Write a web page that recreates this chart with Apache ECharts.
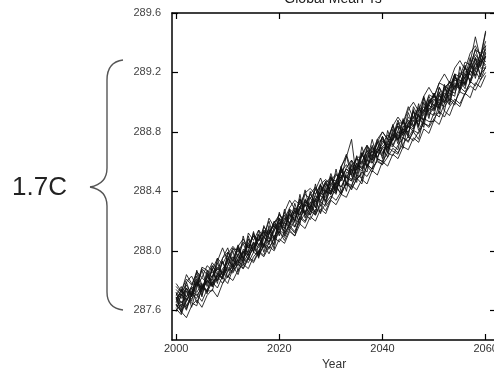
<!DOCTYPE html>
<html>
<head>
<meta charset="utf-8">
<script src="https://cdn.jsdelivr.net/npm/echarts@6/dist/echarts.min.js"></script>
<style>
  html, body { margin: 0; padding: 0; background: #fff; }
  #chart { width: 494px; height: 370px; }
</style>
</head>
<body>
<div id="chart"></div>
<script>
// years of the ensemble runs
var years = [
  2000, 2001, 2002, 2003, 2004, 2005, 2006, 2007, 2008, 2009,
  2010, 2011, 2012, 2013, 2014, 2015, 2016, 2017, 2018, 2019,
  2020, 2021, 2022, 2023, 2024, 2025, 2026, 2027, 2028, 2029,
  2030, 2031, 2032, 2033, 2034, 2035, 2036, 2037, 2038, 2039,
  2040, 2041, 2042, 2043, 2044, 2045, 2046, 2047, 2048, 2049,
  2050, 2051, 2052, 2053, 2054, 2055, 2056, 2057, 2058, 2059,
  2060
];

var xTicks = [2000, 2020, 2040, 2060];
var yTicks = [287.6, 288.0, 288.4, 288.8, 289.2, 289.6];

// global mean Ts (K), one array per ensemble member
var run01 = [
  287.67, 287.74, 287.69, 287.76, 287.85, 287.75, 287.82, 287.90, 287.84, 287.82,
  287.94, 288.02, 287.96, 287.93, 288.05, 288.10, 288.04, 288.10, 288.04, 288.16,
  288.25, 288.19, 288.16, 288.28, 288.24, 288.34, 288.31, 288.26, 288.39, 288.46,
  288.39, 288.46, 288.56, 288.49, 288.47, 288.59, 288.59, 288.68, 288.59, 288.66,
  288.74, 288.69, 288.77, 288.88, 288.77, 288.84, 288.80, 288.94, 288.94, 289.04,
  288.97, 289.05, 288.99, 289.10, 289.17, 289.13, 289.13, 289.25, 289.32, 289.27,
  289.36
];
var run02 = [
  287.62, 287.66, 287.60, 287.71, 287.68, 287.77, 287.72, 287.79, 287.83, 287.78,
  287.86, 287.90, 287.84, 287.95, 287.92, 287.99, 287.97, 288.04, 288.01, 288.09,
  288.06, 288.12, 288.17, 288.13, 288.22, 288.19, 288.27, 288.24, 288.33, 288.30,
  288.35, 288.43, 288.38, 288.46, 288.44, 288.51, 288.49, 288.57, 288.53, 288.62,
  288.60, 288.66, 288.64, 288.71, 288.76, 288.73, 288.81, 288.79, 288.86, 288.84,
  288.93, 288.90, 288.99, 289.03, 289.00, 289.07, 289.05, 289.14, 289.11, 289.19,
  289.23
];
var run03 = [
  287.74, 287.70, 287.79, 287.83, 287.76, 287.88, 287.84, 287.92, 287.87, 287.95,
  287.99, 287.93, 288.03, 288.08, 288.02, 288.11, 288.07, 288.16, 288.12, 288.19,
  288.22, 288.18, 288.28, 288.25, 288.33, 288.30, 288.38, 288.43, 288.37, 288.46,
  288.49, 288.44, 288.53, 288.58, 288.52, 288.62, 288.60, 288.67, 288.64, 288.73,
  288.75, 288.70, 288.80, 288.84, 288.79, 288.90, 288.87, 288.95, 288.93, 289.01,
  289.04, 288.99, 289.10, 289.13, 289.08, 289.20, 289.16, 289.25, 289.22, 289.32,
  289.35
];
var run04 = [
  287.69, 287.58, 287.73, 287.66, 287.80, 287.72, 287.87, 287.76, 287.92, 287.83,
  287.97, 287.88, 288.03, 287.94, 288.08, 287.99, 288.14, 288.02, 288.17, 288.07,
  288.21, 288.12, 288.27, 288.19, 288.35, 288.24, 288.40, 288.29, 288.45, 288.33,
  288.50, 288.39, 288.55, 288.45, 288.61, 288.50, 288.66, 288.56, 288.71, 288.61,
  288.77, 288.66, 288.82, 288.72, 288.88, 288.78, 288.95, 288.83, 289.00, 288.89,
  289.06, 288.95, 289.12, 289.01, 289.19, 289.07, 289.25, 289.13, 289.30, 289.18,
  289.33
];
var run05 = [
  287.60, 287.64, 287.62, 287.68, 287.71, 287.66, 287.74, 287.79, 287.75, 287.83,
  287.88, 287.85, 287.92, 287.98, 288.04, 288.00, 288.09, 288.13, 288.11, 288.19,
  288.24, 288.21, 288.29, 288.34, 288.31, 288.39, 288.42, 288.38, 288.45, 288.48,
  288.44, 288.51, 288.49, 288.55, 288.53, 288.58, 288.56, 288.64, 288.61, 288.67,
  288.70, 288.68, 288.75, 288.80, 288.78, 288.86, 288.90, 288.87, 288.95, 288.99,
  289.02, 288.98, 289.06, 289.04, 289.11, 289.09, 289.17, 289.21, 289.18, 289.26,
  289.31
];
var run06 = [
  287.72, 287.68, 287.75, 287.70, 287.78, 287.74, 287.80, 287.77, 287.84, 287.81,
  287.89, 287.86, 287.91, 287.88, 287.95, 287.92, 287.99, 287.96, 288.03, 288.00,
  288.08, 288.05, 288.13, 288.10, 288.18, 288.15, 288.23, 288.20, 288.28, 288.25,
  288.34, 288.31, 288.38, 288.36, 288.44, 288.41, 288.48, 288.45, 288.54, 288.51,
  288.60, 288.57, 288.65, 288.62, 288.70, 288.68, 288.76, 288.73, 288.82, 288.79,
  288.88, 288.85, 288.94, 288.91, 289.00, 288.97, 289.06, 289.03, 289.13, 289.10,
  289.18
];
var run07 = [
  287.65, 287.74, 287.63, 287.70, 287.79, 287.69, 287.85, 287.78, 287.82, 287.93,
  287.86, 287.94, 288.04, 287.95, 288.00, 288.12, 288.03, 288.10, 288.20, 288.08,
  288.16, 288.26, 288.17, 288.24, 288.35, 288.26, 288.30, 288.42, 288.33, 288.40,
  288.52, 288.42, 288.48, 288.64, 288.50, 288.55, 288.66, 288.57, 288.62, 288.75,
  288.66, 288.72, 288.85, 288.75, 288.79, 288.93, 288.84, 288.88, 289.03, 288.91,
  288.97, 289.10, 289.00, 289.05, 289.18, 289.08, 289.14, 289.27, 289.44, 289.29,
  289.47
];
var run08 = [
  287.64, 287.59, 287.55, 287.63, 287.67, 287.62, 287.70, 287.74, 287.69, 287.78,
  287.83, 287.80, 287.87, 287.91, 287.88, 287.96, 288.00, 287.97, 288.06, 288.10,
  288.14, 288.11, 288.19, 288.16, 288.23, 288.27, 288.24, 288.32, 288.37, 288.34,
  288.41, 288.46, 288.43, 288.50, 288.47, 288.55, 288.60, 288.57, 288.64, 288.69,
  288.65, 288.73, 288.78, 288.75, 288.83, 288.88, 288.84, 288.92, 288.97, 288.94,
  289.01, 289.06, 289.03, 289.11, 289.15, 289.12, 289.20, 289.24, 289.21, 289.28,
  289.24
];
var run09 = [
  287.78, 287.73, 287.81, 287.77, 287.86, 287.82, 287.90, 287.87, 287.95, 287.91,
  287.98, 288.03, 287.99, 288.06, 288.02, 288.10, 288.07, 288.14, 288.11, 288.18,
  288.15, 288.22, 288.19, 288.27, 288.24, 288.31, 288.29, 288.37, 288.34, 288.41,
  288.38, 288.46, 288.43, 288.51, 288.48, 288.56, 288.54, 288.61, 288.59, 288.67,
  288.64, 288.72, 288.70, 288.78, 288.76, 288.84, 288.82, 288.91, 288.88, 288.96,
  288.94, 289.02, 289.00, 289.08, 289.06, 289.15, 289.12, 289.21, 289.18, 289.27,
  289.30
];
var run10 = [
  287.70, 287.76, 287.66, 287.72, 287.81, 287.74, 287.79, 287.88, 287.80, 287.86,
  287.95, 287.89, 287.97, 288.05, 287.96, 288.02, 288.11, 288.04, 288.14, 288.09,
  288.18, 288.24, 288.14, 288.21, 288.30, 288.25, 288.36, 288.29, 288.40, 288.47,
  288.38, 288.45, 288.57, 288.63, 288.75, 288.48, 288.52, 288.70, 288.61, 288.68,
  288.77, 288.69, 288.76, 288.86, 288.79, 288.85, 288.94, 288.81, 288.88, 288.99,
  289.06, 288.96, 289.03, 289.14, 289.09, 289.18, 289.11, 289.22, 289.30, 289.24,
  289.38
];
var run11 = [
  287.63, 287.70, 287.75, 287.69, 287.76, 287.82, 287.78, 287.83, 287.89, 287.84,
  287.90, 287.96, 287.92, 287.99, 288.05, 288.01, 288.07, 288.13, 288.08, 288.15,
  288.21, 288.17, 288.22, 288.29, 288.25, 288.32, 288.38, 288.33, 288.40, 288.45,
  288.40, 288.47, 288.53, 288.49, 288.57, 288.62, 288.58, 288.65, 288.70, 288.66,
  288.72, 288.78, 288.74, 288.81, 288.87, 288.83, 288.90, 288.96, 288.91, 288.99,
  289.05, 289.01, 289.08, 289.14, 289.10, 289.17, 289.23, 289.18, 289.26, 289.32,
  289.27
];
var run12 = [
  287.66, 287.71, 287.67, 287.73, 287.70, 287.75, 287.80, 287.76, 287.81, 287.86,
  287.82, 287.88, 287.93, 287.90, 287.96, 287.93, 288.00, 288.05, 288.02, 288.08,
  288.13, 288.09, 288.16, 288.12, 288.20, 288.25, 288.21, 288.28, 288.26, 288.32,
  288.37, 288.34, 288.40, 288.45, 288.42, 288.48, 288.53, 288.50, 288.56, 288.60,
  288.58, 288.63, 288.69, 288.66, 288.72, 288.77, 288.74, 288.80, 288.86, 288.83,
  288.89, 288.94, 288.90, 288.97, 289.02, 288.99, 289.06, 289.11, 289.08, 289.15,
  289.20
];
var run13 = [
  287.68, 287.72, 287.77, 287.71, 287.79, 287.75, 287.82, 287.86, 287.80, 287.88,
  287.92, 287.87, 287.95, 288.00, 287.94, 288.04, 288.08, 288.03, 288.12, 288.17,
  288.12, 288.20, 288.25, 288.20, 288.30, 288.34, 288.29, 288.38, 288.44, 288.38,
  288.47, 288.52, 288.47, 288.56, 288.61, 288.56, 288.65, 288.71, 288.66, 288.75,
  288.80, 288.75, 288.84, 288.90, 288.85, 288.95, 289.00, 288.94, 289.04, 289.10,
  289.04, 289.13, 289.19, 289.13, 289.23, 289.28, 289.22, 289.33, 289.38, 289.31,
  289.48
];
var run14 = [
  287.71, 287.65, 287.69, 287.76, 287.72, 287.78, 287.73, 287.82, 287.88, 287.85,
  287.93, 287.90, 287.94, 287.99, 287.97, 288.06, 288.02, 288.09, 288.06, 288.14,
  288.19, 288.15, 288.24, 288.22, 288.28, 288.33, 288.28, 288.35, 288.39, 288.36,
  288.44, 288.41, 288.49, 288.55, 288.51, 288.59, 288.55, 288.62, 288.67, 288.63,
  288.70, 288.74, 288.71, 288.79, 288.82, 288.80, 288.88, 288.85, 288.93, 288.98,
  288.95, 289.04, 289.01, 289.09, 289.13, 289.11, 289.19, 289.15, 289.23, 289.29,
  289.25
];
var run15 = [
  287.59, 287.71, 287.61, 287.71, 287.83, 287.70, 287.82, 287.80, 287.95, 287.83,
  287.90, 288.00, 287.86, 288.01, 287.99, 288.13, 287.98, 288.08, 288.15, 288.01,
  288.19, 288.13, 288.28, 288.20, 288.38, 288.22, 288.33, 288.25, 288.42, 288.40,
  288.38, 288.55, 288.39, 288.53, 288.51, 288.64, 288.47, 288.65, 288.61, 288.73,
  288.62, 288.81, 288.71, 288.68, 288.84, 288.83, 288.94, 288.84, 289.04, 288.93,
  288.91, 289.07, 288.94, 289.10, 289.19, 289.09, 289.17, 289.30, 289.16, 289.30,
  289.41
];
var run16 = [
  287.72, 287.62, 287.75, 287.62, 287.75, 287.87, 287.76, 287.88, 287.78, 287.95,
  288.02, 287.90, 287.98, 287.91, 288.10, 287.99, 288.11, 287.99, 288.11, 288.20,
  288.10, 288.28, 288.18, 288.27, 288.18, 288.35, 288.27, 288.45, 288.30, 288.38,
  288.50, 288.39, 288.51, 288.40, 288.58, 288.52, 288.70, 288.58, 288.55, 288.69,
  288.77, 288.66, 288.75, 288.84, 288.69, 288.87, 288.83, 288.99, 288.86, 288.97,
  289.06, 288.92, 289.09, 289.06, 289.04, 289.24, 289.12, 289.21, 289.29, 289.17,
  289.31
];
var run17 = [
  287.64, 287.59, 287.66, 287.75, 287.65, 287.74, 287.84, 287.76, 287.84, 287.93,
  287.82, 287.92, 288.02, 287.92, 287.98, 288.05, 287.95, 288.13, 288.06, 288.13,
  288.22, 288.10, 288.18, 288.32, 288.21, 288.31, 288.24, 288.35, 288.25, 288.44,
  288.42, 288.38, 288.55, 288.46, 288.43, 288.57, 288.57, 288.53, 288.69, 288.63,
  288.69, 288.63, 288.79, 288.75, 288.89, 288.76, 288.82, 288.92, 288.83, 289.01,
  288.98, 288.96, 289.11, 288.99, 289.12, 289.10, 289.24, 289.13, 289.26, 289.23,
  289.23
];
var run18 = [
  287.76, 287.72, 287.84, 287.78, 287.77, 287.89, 287.87, 287.82, 287.93, 288.02,
  287.93, 288.01, 288.01, 287.95, 288.12, 288.07, 288.14, 288.09, 288.22, 288.16,
  288.14, 288.26, 288.34, 288.28, 288.28, 288.38, 288.35, 288.41, 288.49, 288.39,
  288.48, 288.47, 288.56, 288.65, 288.54, 288.63, 288.63, 288.71, 288.63, 288.73,
  288.80, 288.75, 288.75, 288.86, 288.86, 288.97, 288.89, 288.97, 288.94, 289.05,
  289.03, 289.13, 289.11, 289.08, 289.19, 289.17, 289.27, 289.25, 289.35, 289.33,
  289.38
];
var run19 = [
  287.61, 287.57, 287.68, 287.65, 287.63, 287.76, 287.73, 287.73, 287.85, 287.82,
  287.78, 287.88, 287.94, 287.88, 287.95, 288.03, 287.96, 288.04, 287.98, 288.06,
  288.13, 288.07, 288.14, 288.10, 288.23, 288.20, 288.30, 288.24, 288.31, 288.27,
  288.35, 288.44, 288.38, 288.46, 288.41, 288.49, 288.45, 288.58, 288.55, 288.61,
  288.58, 288.70, 288.67, 288.65, 288.76, 288.74, 288.80, 288.75, 288.89, 288.87,
  288.87, 288.99, 288.97, 289.02, 288.98, 289.10, 289.07, 289.13, 289.21, 289.15,
  289.24
];
var run20 = [
  287.69, 287.60, 287.79, 287.69, 287.87, 287.77, 287.71, 287.90, 287.86, 287.81,
  287.99, 287.94, 287.90, 288.10, 287.97, 288.06, 287.97, 288.17, 288.09, 288.04,
  288.26, 288.15, 288.25, 288.16, 288.28, 288.41, 288.26, 288.34, 288.44, 288.31,
  288.46, 288.42, 288.57, 288.44, 288.55, 288.46, 288.65, 288.60, 288.75, 288.62,
  288.60, 288.76, 288.84, 288.74, 288.82, 288.77, 288.97, 288.90, 288.88, 289.02,
  288.95, 289.10, 289.04, 288.98, 289.16, 289.15, 289.09, 289.23, 289.36, 289.24,
  289.34
];

var runs = [run01, run02, run03, run04, run05, run06, run07, run08, run09, run10,
            run11, run12, run13, run14, run15, run16, run17, run18, run19, run20];

var myChart = echarts.init(document.getElementById('chart'));

var series = runs.map(function (r, k) {
  return {
    name: 'run' + (k + 1),
    type: 'line',
    showSymbol: false,
    silent: true,
    lineStyle: { color: '#111', width: 1, opacity: 0.85 },
    data: years.map(function (y, i) { return [y, r[i]]; })
  };
});

var tickStyle = { color: '#000', width: 1.2 };
var braceStyle = { stroke: '#555', lineWidth: 1.4, fill: null };

var option = {
  animation: false,
  grid: { left: 172, right: -2, top: 13, bottom: 30, outerBoundsMode: 'none' },
  xAxis: [{
    type: 'value', position: 'bottom', min: 1999.2, max: 2062,
    axisLine: { lineStyle: { color: '#000', width: 1.5 } },
    axisTick: { inside: true, length: 6, customValues: xTicks, lineStyle: tickStyle },
    axisLabel: { customValues: xTicks, color: '#333', fontSize: 11, margin: 3,
                 fontFamily: 'Liberation Sans', formatter: function (v) { return String(v); } },
    splitLine: { show: false },
    name: 'Year', nameLocation: 'middle', nameGap: 16,
    nameTextStyle: { color: '#333', fontSize: 12, fontFamily: 'Liberation Sans' }
  }, {
    type: 'value', position: 'top', min: 1999.2, max: 2062,
    axisLine: { lineStyle: { color: '#000', width: 1.5 } },
    axisTick: { inside: true, length: 6, customValues: xTicks, lineStyle: tickStyle },
    axisLabel: { show: false },
    splitLine: { show: false }
  }],
  yAxis: [{
    type: 'value', position: 'left', min: 287.4, max: 289.6,
    axisLine: { show: true, lineStyle: { color: '#000', width: 1.5 } },
    axisTick: { show: true, inside: true, length: 6, customValues: yTicks, lineStyle: tickStyle },
    axisLabel: { customValues: yTicks, color: '#444', fontSize: 11, margin: 11,
                 fontFamily: 'Liberation Sans', formatter: function (v) { return v.toFixed(1); } },
    splitLine: { show: false }
  }, {
    type: 'value', position: 'right', min: 287.4, max: 289.6,
    axisLine: { show: true, lineStyle: { color: '#000', width: 1.5 } },
    axisTick: { show: true, inside: true, length: 6, customValues: yTicks, lineStyle: tickStyle },
    axisLabel: { show: false },
    splitLine: { show: false }
  }],
  graphic: [
    { type: 'text', x: 333, y: 6,
      style: { text: 'Global Mean Ts', fill: '#222', fontSize: 14,
               fontFamily: 'Liberation Sans', align: 'center', verticalAlign: 'bottom' } },
    { type: 'text', x: 12, y: 188,
      style: { text: '1.7C', fill: '#222', fontSize: 26,
               fontFamily: 'Liberation Sans', verticalAlign: 'middle' } },
    // curly brace spanning the warming range
    { type: 'bezierCurve', shape: { x1: 123, y1: 60, cpx1: 107, cpy1: 62, x2: 107, y2: 80 }, style: braceStyle },
    { type: 'line', shape: { x1: 107, y1: 80, x2: 107, y2: 168 }, style: braceStyle },
    { type: 'bezierCurve', shape: { x1: 107, y1: 168, cpx1: 107, cpy1: 184, x2: 90, y2: 187 }, style: braceStyle },
    { type: 'bezierCurve', shape: { x1: 90, y1: 187, cpx1: 107, cpy1: 190, x2: 107, y2: 206 }, style: braceStyle },
    { type: 'line', shape: { x1: 107, y1: 206, x2: 107, y2: 292 }, style: braceStyle },
    { type: 'bezierCurve', shape: { x1: 107, y1: 292, cpx1: 107, cpy1: 308, x2: 123, y2: 310 }, style: braceStyle }
  ],
  series: series
};

myChart.setOption(option);
</script>
</body>
</html>
